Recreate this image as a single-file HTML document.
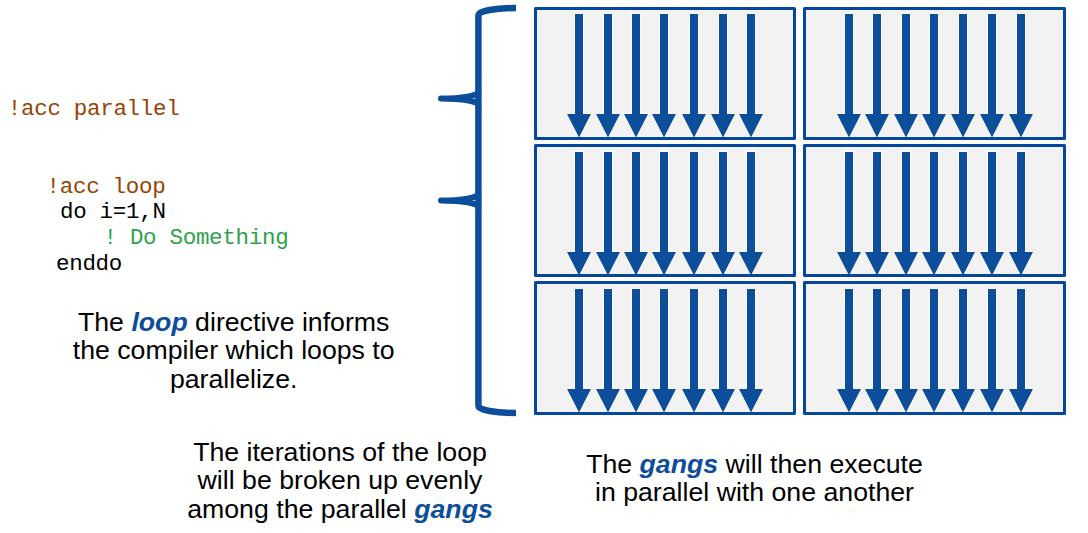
<!DOCTYPE html>
<html>
<head>
<meta charset="utf-8">
<title>OpenACC loop directive</title>
<style>
html,body{margin:0;padding:0;background:#fff;}
body{width:1088px;height:533px;position:relative;overflow:hidden;font-family:"Liberation Sans",Arial,sans-serif;color:#000;}
.code{position:absolute;white-space:pre;font-family:"Liberation Mono",monospace;font-size:22.5px;line-height:26px;margin:0;letter-spacing:-0.3px;}
.br{color:#944404;}
.gr{color:#2fa14b;}
.txt{position:absolute;text-align:center;font-size:26.7px;line-height:28.7px;white-space:nowrap;transform:translateX(-50%);}
.txt b{color:#0d4e9b;font-style:italic;font-weight:bold;}
svg{position:absolute;left:0;top:0;}
</style>
</head>
<body>
<svg width="1088" height="533" viewBox="0 0 1088 533">
  <defs>
    <g id="arrows" fill="#0d4e9b">
      <path id="arw" d="M-4 0H4V100H12L0 123.5L-12 100H-4Z" stroke="#fffdf8" stroke-width="1.6" paint-order="stroke" stroke-linejoin="miter"/>
    </g>
    <g id="rowL">
      <use href="#arw" x="0"/>
      <use href="#arw" x="29"/>
      <use href="#arw" x="57"/>
      <use href="#arw" x="85"/>
      <use href="#arw" x="115"/>
      <use href="#arw" x="144"/>
      <use href="#arw" x="172"/>
    </g>
    <g id="rowR">
      <use href="#arw" x="0"/>
      <use href="#arw" x="28"/>
      <use href="#arw" x="57"/>
      <use href="#arw" x="85"/>
      <use href="#arw" x="114"/>
      <use href="#arw" x="143"/>
      <use href="#arw" x="172"/>
    </g>
  </defs>
  <g fill="#f2f2f2" stroke="none">
    <rect x="535.5" y="8.5" width="259" height="130"/>
    <rect x="535.5" y="145.5" width="259" height="130"/>
    <rect x="535.5" y="282.5" width="259" height="131"/>
    <rect x="804.5" y="8.5" width="260" height="130"/>
    <rect x="804.5" y="145.5" width="260" height="130"/>
    <rect x="804.5" y="282.5" width="260" height="131"/>
  </g>
  <g fill="#0d4e9b">
    <use href="#rowL" x="579" y="14"/>
    <use href="#rowL" x="579" y="152"/>
    <use href="#rowL" x="579" y="289"/>
    <use href="#rowR" x="849" y="14"/>
    <use href="#rowR" x="849" y="152"/>
    <use href="#rowR" x="849" y="289"/>
  </g>
  <g fill="none" stroke="#04479c" stroke-width="3" stroke-linejoin="round">
    <rect x="535.5" y="8.5" width="259" height="130"/>
    <rect x="535.5" y="145.5" width="259" height="130"/>
    <rect x="535.5" y="282.5" width="259" height="131"/>
    <rect x="804.5" y="8.5" width="260" height="130"/>
    <rect x="804.5" y="145.5" width="260" height="130"/>
    <rect x="804.5" y="282.5" width="260" height="131"/>
  </g>
  <g fill="none" stroke="#0d4e9b" stroke-width="6.5" stroke-linecap="butt" stroke-linejoin="round">
    <path d="M516 8 A37.6 7 0 0 0 478.4 15 V406 A37.6 7 0 0 0 516 413"/>
  </g>
  <g fill="none" stroke="#0d4e9b" stroke-width="6" stroke-linecap="round" stroke-linejoin="round">
    <path d="M478.4 92 A37.4 6.5 0 0 1 441 98.5 A37.4 6.5 0 0 1 478.4 105"/>
    <path d="M478.4 194 A37.4 6.5 0 0 1 441 200.5 A37.4 6.5 0 0 1 478.4 207"/>
  </g>
</svg>

<div class="code br" style="left:7.8px;top:96.4px;">!acc parallel</div>
<div class="code br" style="left:46.6px;top:174.4px;">!acc loop</div>
<div class="code" style="left:60px;top:199.4px;">do i=1,N</div>
<div class="code gr" style="left:103.5px;top:225.4px;">! Do Something</div>
<div class="code" style="left:56px;top:251.4px;">enddo</div>

<div class="txt" style="left:233.7px;top:307.5px;">The <b>loop</b> directive informs<br>the compiler which loops to<br>parallelize.</div>
<div class="txt" style="left:340px;top:437.5px;">The iterations of the loop<br>will be broken up evenly<br>among the parallel <b>gangs</b></div>
<div class="txt" style="left:754.5px;top:449.5px;">The <b>gangs</b> will then execute<br>in parallel with one another</div>
</body>
</html>
